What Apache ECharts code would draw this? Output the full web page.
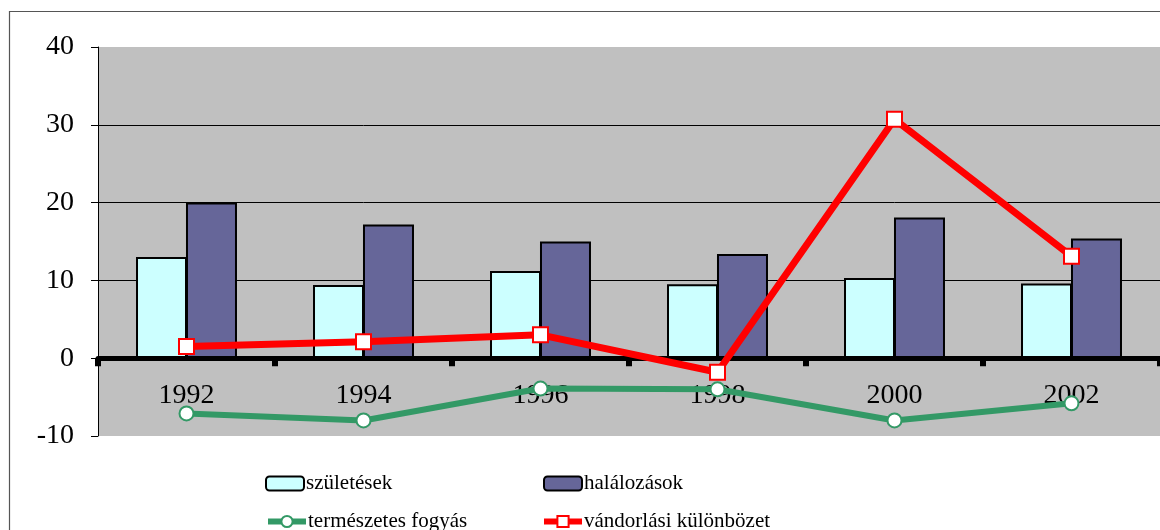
<!DOCTYPE html>
<html><head><meta charset="utf-8">
<script src="https://cdn.jsdelivr.net/npm/echarts@6/dist/echarts.min.js"></script>
<style>html,body{margin:0;padding:0;background:#fff}#c{width:1160px;height:530px}</style>
</head><body><div id="c"></div>
<script>
const years = ['1992','1994','1996','1998','2000','2002'];
const szuletesek = [13.0, 9.4, 11.2, 9.5, 10.3, 9.6];
const halalozasok = [20.0, 17.2, 15.0, 13.4, 18.1, 15.4];
const termeszetesFogyas = [-7.1, -8.0, -3.9, -4.0, -8.0, -5.8];
const vandorlasi = [1.5, 2.1, 3.0, -1.8, 30.7, 13.1];
const names = ['születések','halálozások','természetes fogyás','vándorlási különbözet'];

const serif = '"Liberation Serif","DejaVu Serif",serif';
const chart = echarts.init(document.getElementById('c'), null, {renderer:'canvas'});
function leg(name, left, top){
  return {data:[name], left:left, top:top, padding:0, itemWidth:38, itemHeight:14, itemGap:0,
    lineStyle:{width:6}, itemStyle:{borderWidth:2},
    textStyle:{fontFamily:serif, fontSize:21, color:'#000', padding:[0,0,0,-3]}, selectedMode:false};
}
chart.setOption({
  animation:false,
  graphic:[{type:'rect', shape:{x:9.5,y:11.5,width:1170,height:540}, style:{fill:null, stroke:'#555', lineWidth:1.2}, z:-10}],
  grid:{left:98, top:47, width:1066, height:389, show:true, backgroundColor:'#c0c0c0', borderWidth:0},
  legend:[leg(names[0],265,473), leg(names[1],543,473), leg(names[2],265,511), leg(names[3],541,511)],
  xAxis:{type:'category', data:years, boundaryGap:true,
    axisLine:{onZero:true, lineStyle:{color:'#000', width:5}},
    axisTick:{show:true, alignWithLabel:false, length:8, lineStyle:{color:'#000', width:6}},
    axisLabel:{fontFamily:serif, fontSize:28, color:'#000', margin:-54},
    splitLine:{show:false}, z:3},
  yAxis:{type:'value', min:-10, max:40, interval:10,
    axisLine:{show:true, lineStyle:{color:'#000', width:1}},
    axisTick:{show:true, length:7, lineStyle:{color:'#000'}},
    axisLabel:{fontFamily:serif, fontSize:28, color:'#000', margin:24},
    splitLine:{show:true, showMinLine:false, showMaxLine:false, lineStyle:{color:'#000', width:1}}},
  series:[
    {name:names[0], type:'bar', data:szuletesek, barWidth:51, barGap:'-2%',
      itemStyle:{color:'#ccffff', borderColor:'#000', borderWidth:2}, z:2},
    {name:names[1], type:'bar', data:halalozasok, barWidth:51, barGap:'-2%',
      itemStyle:{color:'#666699', borderColor:'#000', borderWidth:2}, z:2},
    {name:names[2], type:'line', data:termeszetesFogyas, symbol:'circle', symbolSize:14,
      lineStyle:{color:'#339966', width:6}, itemStyle:{color:'#fff', borderColor:'#339966', borderWidth:2}, z:4},
    {name:names[3], type:'line', data:vandorlasi, symbol:'rect', symbolSize:15,
      lineStyle:{color:'#ff0000', width:7}, itemStyle:{color:'#fff', borderColor:'#ff0000', borderWidth:2}, z:5}
  ]
});
</script></body></html>
